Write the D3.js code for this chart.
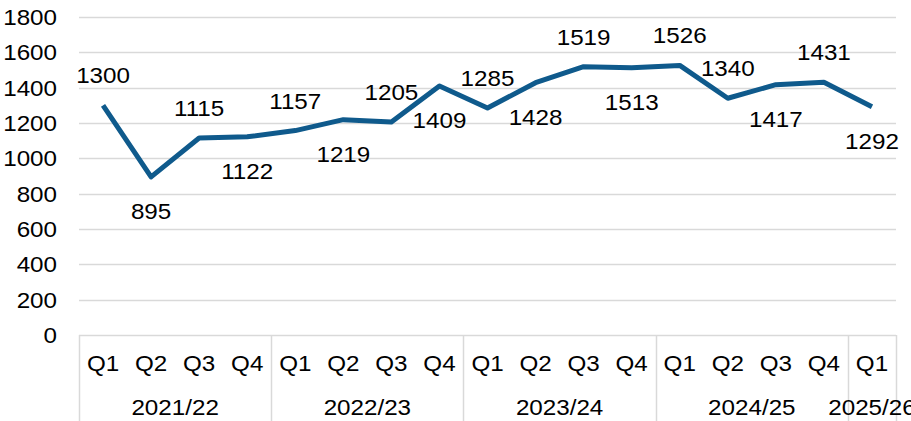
<!DOCTYPE html>
<html>
<head>
<meta charset="utf-8">
<script src="https://cdn.jsdelivr.net/npm/d3@7"></script>
<style>
  body { margin: 0; background: #fff; }
  text { font-family: "Liberation Sans", Arial, sans-serif; fill: #000; }
</style>
</head>
<body>
<div id="chart"></div>
<script>
// data
const quarters = ['Q1', 'Q2', 'Q3', 'Q4', 'Q1', 'Q2', 'Q3', 'Q4', 'Q1', 'Q2', 'Q3', 'Q4', 'Q1', 'Q2', 'Q3', 'Q4', 'Q1'];
const years = ['2021/22', '2022/23', '2023/24', '2024/25', '2025/26'];
const yearOf = [0, 0, 0, 0, 1, 1, 1, 1, 2, 2, 2, 2, 3, 3, 3, 3, 4];
const values = [1300, 895, 1115, 1122, 1157, 1219, 1205, 1409, 1285, 1428, 1519, 1513, 1526, 1340, 1417, 1431, 1292];
// label side: 1 = above the point, -1 = below
const labelSide = [1, -1, 1, -1, 1, -1, 1, -1, 1, -1, 1, -1, 1, 1, -1, 1, -1];
const yTicks = [0, 200, 400, 600, 800, 1000, 1200, 1400, 1600, 1800];

const W = 911, H = 421;
const MARGIN = {top: 17, right: 15, bottom: 86, left: 79};
const LINE = '#0f5a8c';
const GRID = '#d9d9d9';
const FS = 22;
const STRETCH = 1.1; // the reference text is a bit wider than plain Arial

const svg = d3.select('#chart').append('svg')
    .attr('width', W)
    .attr('height', H);

const innerW = W - MARGIN.left - MARGIN.right;
const innerH = H - MARGIN.top - MARGIN.bottom;

const idx = d3.range(values.length);
const x = d3.scaleBand().domain(idx).range([MARGIN.left, MARGIN.left + innerW]).padding(0);
const y = d3.scaleLinear().domain([0, 1800]).range([MARGIN.top + innerH, MARGIN.top]);
const cx = i => x(i) + x.bandwidth() / 2;

const place = (px, py) => `translate(${px},${py}) scale(${STRETCH},1)`;

// gridlines
svg.append('g')
    .selectAll('line')
    .data(yTicks)
    .join('line')
    .attr('x1', MARGIN.left)
    .attr('x2', MARGIN.left + innerW)
    .attr('y1', d => Math.round(y(d)) + 0.5)
    .attr('y2', d => Math.round(y(d)) + 0.5)
    .attr('stroke', GRID)
    .attr('stroke-width', 1.5);

// y tick labels
svg.append('g')
    .selectAll('text')
    .data(yTicks)
    .join('text')
    .attr('transform', d => place(57, y(d) + 8))
    .attr('text-anchor', 'end')
    .attr('font-size', FS)
    .text(d => d);

// category box: vertical separators at year boundaries
const bounds = [0];
yearOf.forEach((g, i) => { if (i > 0 && g !== yearOf[i - 1]) bounds.push(i); });
const sepX = bounds.map(i => x(i)).concat([MARGIN.left + innerW]);
svg.append('g')
    .selectAll('line')
    .data(sepX)
    .join('line')
    .attr('x1', d => Math.round(d) + 0.5)
    .attr('x2', d => Math.round(d) + 0.5)
    .attr('y1', y(0))
    .attr('y2', H)
    .attr('stroke', GRID)
    .attr('stroke-width', 1.5);

// quarter labels
svg.append('g')
    .selectAll('text')
    .data(idx)
    .join('text')
    .attr('transform', i => place(cx(i), 371))
    .attr('text-anchor', 'middle')
    .attr('font-size', FS)
    .text(i => quarters[i]);

// year labels
svg.append('g')
    .selectAll('text')
    .data(years)
    .join('text')
    .attr('transform', (d, g) => {
        const members = idx.filter(i => yearOf[i] === g);
        const mid = (x(members[0]) + x(members[members.length - 1]) + x.bandwidth()) / 2;
        return place(mid, 415);
    })
    .attr('text-anchor', 'middle')
    .attr('font-size', FS)
    .text(d => d);

// line
const line = d3.line()
    .x(i => cx(i))
    .y(i => y(values[i]));

svg.append('path')
    .datum(idx)
    .attr('d', line)
    .attr('fill', 'none')
    .attr('stroke', LINE)
    .attr('stroke-width', 5)
    .attr('stroke-linejoin', 'round');

// data labels
svg.append('g')
    .selectAll('text')
    .data(idx)
    .join('text')
    .attr('transform', i => place(cx(i), labelSide[i] > 0 ? y(values[i]) - 22 : y(values[i]) + 42))
    .attr('text-anchor', 'middle')
    .attr('font-size', FS)
    .text(i => values[i]);
</script>
</body>
</html>
